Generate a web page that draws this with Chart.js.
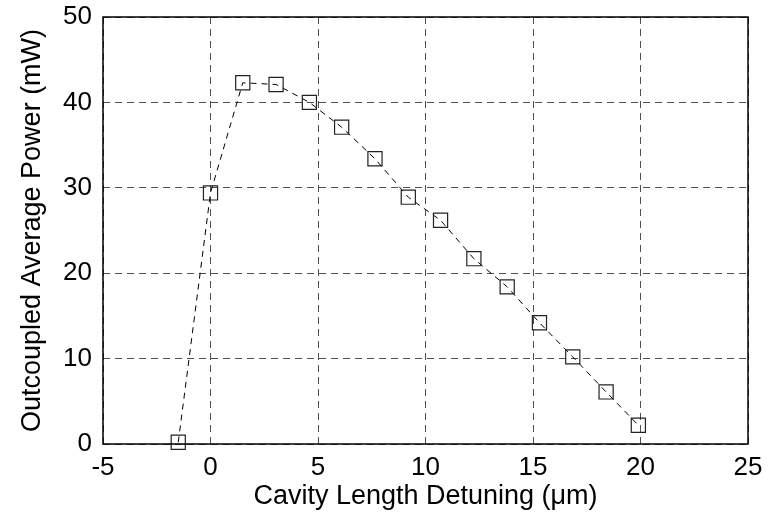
<!DOCTYPE html>
<html>
<head>
<meta charset="utf-8">
<script src="https://cdn.jsdelivr.net/npm/chart.js@4/dist/chart.umd.min.js"></script>
<style>
  html, body { margin: 0; padding: 0; background: #fff; }
  #chart { display: block; }
</style>
</head>
<body>
<canvas id="chart" width="779" height="522"></canvas>
<script>
/* Outcoupled power vs cavity length detuning — single dashed series with square markers. */

const detuning = [-1.5, 0, 1.5, 3.05, 4.6, 6.1, 7.65, 9.2, 10.7, 12.25, 13.8, 15.3, 16.85, 18.4, 19.9];
const power = [0.2, 29.4, 42.3, 42.1, 40.0, 37.1, 33.4, 28.9, 26.2, 21.7, 18.4, 14.2, 10.2, 6.1, 2.2];

const xTicks = [-5, 0, 5, 10, 15, 20, 25];
const yTicks = [0, 10, 20, 30, 40, 50];

const xTitle = 'Cavity Length Detuning (\u03bcm)';
const yTitle = 'Outcoupled Average Power (mW)';

const FONT = "'Liberation Sans', Arial, Helvetica, sans-serif";
const GRID = '#505050';

// box around the plot area, like a MATLAB axes frame
const framePlugin = {
  id: 'frame',
  afterDraw(chart) {
    const { ctx, chartArea: a } = chart;
    ctx.save();
    ctx.strokeStyle = '#000';
    ctx.lineWidth = 1.5;
    ctx.strokeRect(a.left, a.top, a.right - a.left, a.bottom - a.top);
    ctx.restore();
  },
};

const points = detuning.map((x, i) => ({ x, y: power[i] }));

new Chart(document.getElementById('chart'), {
  type: 'scatter',
  data: {
    datasets: [{
      data: points,
      showLine: true,
      borderColor: '#000',
      borderWidth: 1,
      borderDash: [6, 5],
      tension: 0,
      fill: false,
      pointStyle: 'rect',
      pointRadius: 10,
      pointHoverRadius: 10,
      pointBorderWidth: 1.2,
      pointBorderColor: '#222',
      pointBackgroundColor: 'rgba(0,0,0,0)',
      clip: false,
    }],
  },
  options: {
    responsive: false,
    animation: false,
    events: [],
    layout: { padding: { top: 17, right: 31, left: 0, bottom: 0 } },
    scales: {
      x: {
        type: 'linear',
        min: -5, max: 25,
        afterBuildTicks: (s) => { s.ticks = xTicks.map((v) => ({ value: v })); },
        afterFit: (s) => { s.height = 78; s.paddingLeft = 0; s.paddingRight = 0; },
        grid: { color: GRID, lineWidth: 1, drawTicks: false },
        border: { display: false, dash: [7, 5] },
        ticks: { color: '#000', padding: 8, font: { family: FONT, size: 26 } },
        title: {
          display: true, text: xTitle, color: '#000',
          font: { family: FONT, size: 27 },
          padding: { top: 0, bottom: 9 },
        },
      },
      y: {
        type: 'linear',
        min: 0, max: 50,
        afterBuildTicks: (s) => { s.ticks = yTicks.map((v) => ({ value: v })); },
        afterFit: (s) => { s.width = 103; s.paddingTop = 0; s.paddingBottom = 0; },
        grid: { color: GRID, lineWidth: 1, drawTicks: false },
        border: { display: false, dash: [7, 5] },
        ticks: { color: '#000', padding: 11, font: { family: FONT, size: 26 } },
        title: {
          display: true, text: yTitle, color: '#000',
          font: { family: FONT, size: 27 },
          padding: { top: 16, bottom: 0 },
        },
      },
    },
    plugins: {
      legend: { display: false },
      tooltip: { enabled: false },
    },
  },
  plugins: [framePlugin],
});
</script>
</body>
</html>
